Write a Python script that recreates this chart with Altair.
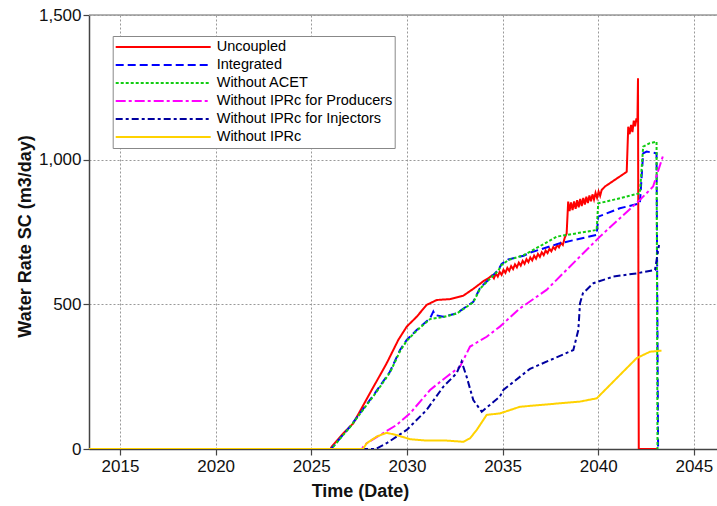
import altair as alt
import pandas as pd

series_names = ["Uncoupled", "Integrated", "Without ACET",
                "Without IPRc for Producers", "Without IPRc for Injectors", "Without IPRc"]
series_colors = ["#FF0000", "#0000FF", "#11CC11", "#FF00FF", "#0000A0", "#FFD200"]
series_dashes = [[1, 0], [8, 4], [3, 2], [10, 3, 3, 3], [7, 3, 3, 3], [1, 0]]

x_ticks = [2015, 2020, 2025, 2030, 2035, 2040, 2045]
y_ticks = [0, 500, 1000, 1500]

uncoupled_t = [2013.38, 2026.0, 2026.07, 2026.67, 2027.2, 2028.16, 2028.94, 2029.55, 2029.99, 2030.51,
               2031.03, 2031.56, 2032.25, 2032.95, 2033.5, 2034.0, 2034.3,
               2034.45, 2034.55, 2034.65, 2034.75, 2034.85, 2034.95, 2035.05, 2035.15, 2035.25, 2035.35,
               2035.45, 2035.55, 2035.65, 2035.75, 2035.85, 2035.95, 2036.05, 2036.15, 2036.25, 2036.35,
               2036.45, 2036.55, 2036.65, 2036.75, 2036.85, 2036.95, 2037.05, 2037.15, 2037.25, 2037.35,
               2037.45, 2037.55, 2037.65, 2037.75, 2037.85, 2037.95, 2038.05, 2038.15, 2038.25, 2038.35,
               2038.43, 2038.5, 2038.58, 2038.66, 2038.74, 2038.82, 2038.9, 2038.98, 2039.06, 2039.14,
               2039.22, 2039.3, 2039.38, 2039.46, 2039.54, 2039.62, 2039.7, 2039.78, 2039.86, 2039.94,
               2040.02, 2040.1, 2040.18, 2040.35, 2041.49, 2041.57, 2041.64, 2041.72, 2041.79, 2041.86,
               2041.93, 2042.0, 2042.05, 2042.08, 2042.12, 2043.13]
uncoupled_v = [0, 0, 8, 54, 89, 204, 296, 377, 423, 457,
               498, 515, 518, 530, 555, 580, 592,
               600, 590, 606, 596, 612, 602, 619, 609, 626, 616,
               632, 622, 638, 628, 644, 634, 650, 640, 656, 646,
               662, 652, 668, 658, 674, 664, 680, 670, 686, 677,
               692, 683, 698, 690, 705, 697, 712, 705, 730, 745,
               855, 822, 852, 826, 856, 830, 860, 835, 864, 840,
               868, 845, 872, 850, 876, 856, 880, 862, 885, 868,
               890, 875, 895, 907, 958, 1114, 1088, 1120, 1095, 1135,
               1115, 1143, 1130, 1281, 0, 0]

integrated_t = [2013.38, 2026.0, 2026.07, 2027.02, 2028.33, 2029.11, 2029.64, 2029.99, 2030.51, 2031.21,
                2031.38, 2031.47, 2031.9, 2032.6, 2033.47, 2033.82, 2034.78, 2034.95, 2035.3, 2036.1,
                2036.5, 2038.0, 2039.92, 2040.0, 2041.13, 2042.18, 2042.35, 2042.53, 2043.05, 2043.13]
integrated_v = [0, 0, 3, 77, 193, 267, 342, 377, 411, 452,
                475, 463, 457, 469, 509, 556, 619, 640, 655, 668,
                680, 711, 740, 803, 832, 849, 1022, 1028, 1022, 0]

acet_t = [2013.38, 2026.0, 2026.07, 2027.02, 2028.33, 2029.11, 2029.64, 2029.99, 2030.51, 2031.21,
          2031.9, 2032.6, 2033.47, 2033.82, 2034.78, 2034.95, 2035.3, 2036.1, 2036.5, 2037.83,
          2039.92, 2040.0, 2040.78, 2042.18, 2042.35, 2042.7, 2043.05, 2043.1]
acet_v = [0, 0, 2, 75, 190, 264, 338, 374, 409, 449,
          456, 468, 507, 554, 617, 636, 653, 670, 684, 734,
          757, 849, 861, 884, 1045, 1057, 1062, 0]

producers_t = [2013.38, 2027.65, 2027.72, 2027.9, 2028.59, 2029.46, 2030.16, 2031.21, 2032.08, 2032.77,
               2033.3, 2034.17, 2034.86, 2035.91, 2037.3, 2040.09, 2042.18, 2042.87, 2043.4]
producers_v = [0, 0, 8, 20, 48, 83, 123, 204, 250, 284,
               354, 388, 423, 486, 550, 734, 861, 907, 1016]

injectors_t = [2013.38, 2028.35, 2028.42, 2028.94, 2029.99, 2031.03, 2031.9, 2032.6, 2032.86, 2033.12,
               2033.47, 2033.91, 2034.86, 2035.04, 2036.43, 2038.7, 2038.96, 2039.05, 2039.2, 2039.75,
               2040.79, 2042.01, 2042.97, 2043.18]
injectors_v = [0, 0, 2, 20, 66, 135, 215, 262, 302, 250,
               169, 129, 181, 204, 277, 342, 411, 504, 538, 573,
               596, 607, 619, 705]

no_iprc_t = [2013.38, 2027.65, 2027.72, 2027.9, 2028.42, 2028.94, 2029.46, 2030.16, 2031.03, 2032.08,
             2032.95, 2033.3, 2033.65, 2034.17, 2034.86, 2035.91, 2039.05, 2039.92, 2042.01, 2042.7,
             2043.31]
no_iprc_v = [0, 0, 2, 20, 43, 56, 48, 34, 29, 29,
             25, 37, 66, 118, 123, 146, 164, 175, 314, 336,
             340]

all_t = [uncoupled_t, integrated_t, acet_t, producers_t, injectors_t, no_iprc_t]
all_v = [uncoupled_v, integrated_v, acet_v, producers_v, injectors_v, no_iprc_v]

rows = []
for name, ts, vs in zip(series_names, all_t, all_v):
    for i, (t, v) in enumerate(zip(ts, vs)):
        rows.append({"series": name, "t": t, "v": v, "i": i})
df = pd.DataFrame(rows)

FONT = "Liberation Sans"

legend = alt.Legend(
    title=None, orient="none", legendX=23.7, legendY=21, padding=2,
    fillColor="white", strokeColor="#888888", symbolType="stroke", symbolSize=9025,
    symbolStrokeWidth=2, clipHeight=18, rowPadding=0, labelFont=FONT, labelFontSize=14.5,
    labelOffset=5, labelColor="#000000", labelLimit=400, cornerRadius=0,
)

lines = alt.Chart(df).mark_line(strokeWidth=2, clip=True).encode(
    x=alt.X("t:Q",
            scale=alt.Scale(domain=[2013.38, 2046.21], nice=False, zero=False),
            axis=alt.Axis(values=x_ticks, format="d", title="Time (Date)", labelPadding=3,
                          titleX=271, titleY=47, titleBaseline="alphabetic", titleAlign="center")),
    y=alt.Y("v:Q",
            scale=alt.Scale(domain=[0, 1500], nice=False),
            axis=alt.Axis(values=y_ticks, format=",d", title="Water Rate SC (m3/day)", labelPadding=2,
                          titleX=-64, titleY=221, titleAngle=270, titleBaseline="middle",
                          titleAlign="center")),
    color=alt.Color("series:N", scale=alt.Scale(domain=series_names, range=series_colors), legend=legend),
    strokeDash=alt.StrokeDash("series:N", scale=alt.Scale(domain=series_names, range=series_dashes),
                              legend=legend),
    order=alt.Order("i:Q"),
)

top_df = pd.DataFrame({"v": [y_ticks[-1]]})
top_line = alt.Chart(top_df).mark_rule(color="#999999", strokeWidth=1.5).encode(y="v:Q")

chart = alt.layer(lines, top_line).properties(
    width=628, height=434,
    autosize=alt.AutoSizeParams(type="none"),
    padding={"left": 89, "top": 15, "right": 0, "bottom": 57},
).configure_view(stroke=None).configure_axis(
    grid=True, gridColor="#999999", gridDash=[2, 2], gridWidth=1,
    domainColor="#444444", domainWidth=1.5, tickColor="#444444", tickSize=6, tickWidth=1.2,
    labelFont=FONT, labelFontSize=17, labelColor="#111111",
    titleFont=FONT, titleFontSize=18, titleFontWeight="bold", titleColor="#111111",
)

chart.save("out.html", embed_options={"renderer": "svg", "actions": False})
